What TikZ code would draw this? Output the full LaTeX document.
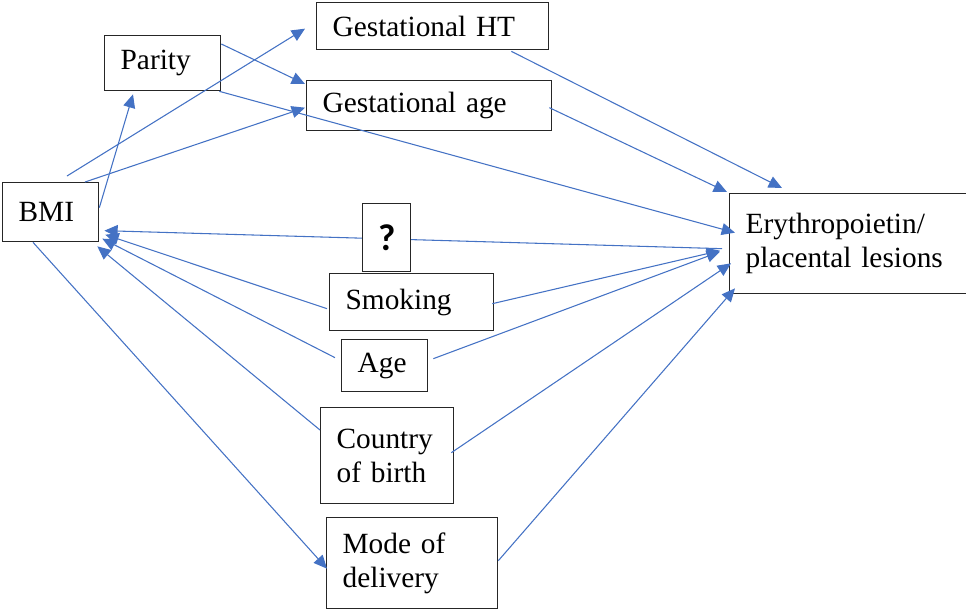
\documentclass[tikz,border=0pt]{standalone}
\usepackage{fontspec}
\setmainfont{Liberation Serif}
\newfontfamily\qfont{Carlito}
\usetikzlibrary{arrows.meta,calc}
\definecolor{arrblue}{HTML}{4472C4}
\definecolor{boxline}{HTML}{262626}

\begin{document}
\begin{tikzpicture}[x=0.75pt,y=-0.75pt,font=\fontsize{22}{25.5}\selectfont]
    \tikzstyle{b}=[draw=boxline,line width=1pt,anchor=north west,inner xsep=12pt,inner ysep=0pt,align=left,fill=white]
    \tikzstyle{a}=[-{Triangle[length=10pt,width=9pt]},arrblue,line width=0.8pt]
    \useasboundingbox (0,0) rectangle (966,611);
    \node[b,text width=48pt,minimum height=44.25pt]     (bmi)  at (2,182)   {BMI};
    \node[b,text width=63pt,minimum height=41.25pt]     (par)  at (104,35)  {Parity};
    \node[b,text width=150pt,minimum height=35.25pt]    (ght)  at (316,2)   {Gestational HT};
    \node[b,text width=159.75pt,minimum height=37.5pt]  (gage) at (306,80)  {Gestational age};
    \node[b,text width=99pt,minimum height=42.75pt]     (smk)  at (329,273) {Smoking};
    \node[b,text width=40.5pt,minimum height=39pt]      (age)  at (341,339) {Age};
    \node[b,text width=75.75pt,minimum height=72pt]     (cob)  at (320,407) {Country\\of birth};
    \node[b,text width=104.25pt,minimum height=68.25pt] (mod)  at (326,517) {Mode of\\delivery};
    \node[b,text width=154.5pt,minimum height=75pt]     (ery)  at (729,193) {Erythropoietin/\\placental lesions};
    % paths out of BMI and Parity
    \draw[a] ($(bmi.east)+(0,-4.5)$) -- ($(par.south west)+(29,3)$);
    \draw[a] ($(bmi.north west)+(65,-6)$) -- ($(ght.west)+(-11,2.5)$);
    \draw[a] ($(bmi.north west)+(83,0)$) -- ($(gage.west)+(-1,2)$);
    \draw[a] ($(par.north east)+(0,9)$) -- ($(gage.north west)+(-1,4)$);
    \draw[a] ($(par.south east)+(-2,0)$) -- ($(ery.west)+(6,-11)$);
    \draw[a] ($(ght.south east)+(-38,1)$) -- ($(ery.north west)+(53,-5)$);
    \draw[a] ($(gage.east)+(-3,2)$) -- ($(ery.north west)+(-2,-1)$);
    % the unknown link, under the ? box
    \draw[a,{Triangle[length=10pt,width=9pt]}-] ($(bmi.east)+(5,18.5)$) -- ($(ery.west)+(-7,5)$);
    \node[b,inner sep=0pt,text width=,minimum width=36pt,minimum height=51pt,align=center,
          font=\qfont\fontsize{28}{30}\selectfont\bfseries] (q) at (362,203) {?};
    % confounders
    \draw[a] ($(smk.west)+(-2,6.5)$) -- ($(bmi.east)+(6,22.5)$);
    \draw[a] ($(smk.east)+(-2,1.5)$) -- ($(ery.west)+(-9,7)$);
    \draw[a] ($(age.west)+(-6,-8)$) -- ($(bmi.east)+(3,26.5)$);
    \draw[a] ($(age.east)+(5,-7)$) -- ($(ery.west)+(-9,8)$);
    \draw[a] ($(cob.north west)+(0,23)$) -- ($(bmi.south east)+(-2,4)$);
    \draw[a] ($(cob.east)+(-3,-3)$) -- ($(ery.south west)+(2,-31)$);
    \draw[a] ($(bmi.south west)+(31,0)$) -- ($(mod.west)+(1,5.5)$);
    \draw[a] ($(mod.east)+(0,-2.5)$) -- ($(ery.south west)+(6,-6)$);
\end{tikzpicture}
\end{document}
